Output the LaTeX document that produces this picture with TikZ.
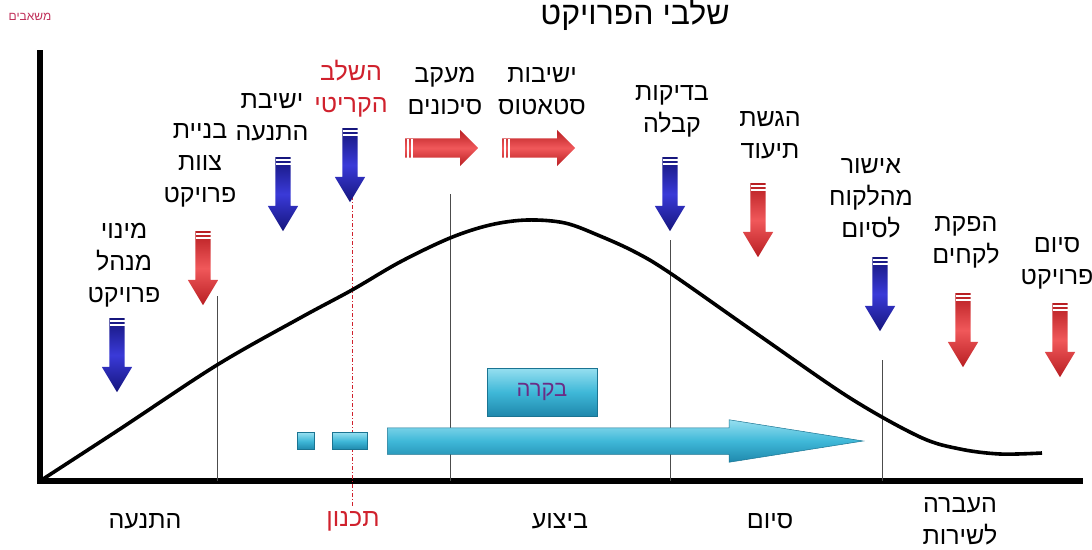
\documentclass[tikz,border=0pt]{standalone}
\usepackage{fontspec}
\setmainfont{Liberation Sans}
\newfontfamily\hebfont[Script=Hebrew]{Liberation Sans}
\TeXXeTstate=1
\usetikzlibrary{shapes.arrows, calc}

\definecolor{arrblue}{HTML}{15157C}
\definecolor{arrbluehi}{HTML}{3A3AD8}
\definecolor{arrred}{HTML}{B81E22}
\definecolor{arrredhi}{HTML}{F0585A}
\definecolor{critred}{HTML}{D0212D}
\definecolor{axislbl}{HTML}{C0305A}
\definecolor{aquahi}{HTML}{96DFF0}
\definecolor{aquamid}{HTML}{3FB8D8}
\definecolor{aquadk}{HTML}{1F88AC}
\definecolor{boxtext}{HTML}{6B2C86}

\newcommand{\heb}[1]{\beginR#1\endR}

\begin{document}
\begin{tikzpicture}[x=1pt, y=-1pt,
    lbl/.style={font=\hebfont\fontsize{25}{32}\selectfont, align=center},
    dn/.style={single arrow, rotate=-90, anchor=tail, minimum height=74,
               minimum width=30, single arrow head extend=7.5,
               single arrow tip angle=62, inner xsep=0pt, inner ysep=7.5pt},
    bluedn/.style={dn, top color=arrblue, bottom color=arrblue,
                   middle color=arrbluehi},
    reddn/.style={dn, top color=arrred, bottom color=arrred,
                  middle color=arrredhi},
    redrt/.style={single arrow, anchor=tail, minimum height=73, minimum width=36,
                  single arrow head extend=8.5, inner xsep=0pt, inner ysep=9.5pt,
                  top color=arrred, bottom color=arrred, middle color=arrredhi},
    aqua/.style={top color=aquahi, bottom color=aquadk, middle color=aquamid,
                 draw=aquadk!85!black, line width=0.5},
    drop/.style={gray!60!black, line width=0.9}
  ]
  \useasboundingbox (0,0) rectangle (1092,549);

  % title, cut at the top edge
  \node[font=\hebfont\fontsize{32}{36}\selectfont, anchor=base] (title)
    at (635,24) {\heb{שלבי הפרויקט}};
  \node[font=\hebfont\fontsize{12}{14}\selectfont, text=axislbl] (ylbl)
    at (30,17) {\heb{משאבים}};

  % axes
  \coordinate (o) at (40,481);
  \draw[line width=6] (40,50) -- (40,484);
  \draw[line width=6] (37,481) -- (1083,481);

  % drop lines
  \draw[drop] (217,296) -- (217,481);
  \draw[drop] (450,194) -- (450,481);
  \draw[drop] (670,240) -- (670,481);
  \draw[drop] (882,360) -- (882,481);
  \draw[critred, line width=0.8, dash pattern=on 4pt off 2pt on 1pt off 2pt]
    (352,196) -- (352,506);

  % resource curve
  \draw[line width=3.6, line join=round] plot[smooth, tension=0.55] coordinates {
    (o) (120,429) (217,365) (300,318) (352,290) (400,262) (450,238)
    (490,225) (527,220) (565,223) (600,236) (635,252) (670,273)
    (760,336) (850,398) (920,437) (960,449) (1000,454) (1042,453)};

  % milestones (tail = top of the arrow)
  \node[bluedn] (a1) at (117,318) {};
  \node[reddn]  (a2) at (203,231) {};
  \node[bluedn] (a3) at (283,157) {};
  \node[bluedn] (a4) at (350,128) {};
  \node[bluedn] (a7) at (670,157) {};
  \node[reddn]  (a8) at (758,183) {};
  \node[bluedn] (a9) at (880,257) {};
  \node[reddn]  (a10) at (963,293) {};
  \node[reddn]  (a11) at (1060,303) {};
  \node[redrt]  (h1) at (405,148) {};
  \node[redrt]  (h2) at (502,148) {};

  \foreach \n in {a1,a2,a3,a4,a7,a8,a9,a10,a11} {
    \draw[white, line width=1.4] ($(\n.tail)+(-7.5,3)$) -- ($(\n.tail)+(7.5,3)$);
    \draw[white, line width=1.4] ($(\n.tail)+(-7.5,7)$) -- ($(\n.tail)+(7.5,7)$);
  }
  \foreach \n in {h1,h2} {
    \draw[white, line width=1.4] ($(\n.tail)+(3,-9.5)$) -- ($(\n.tail)+(3,9.5)$);
    \draw[white, line width=1.4] ($(\n.tail)+(7,-9.5)$) -- ($(\n.tail)+(7,9.5)$);
  }

  % milestone labels
  \node[lbl] (l1) at (124,265) {\heb{מינוי}\\\heb{מנהל}\\\heb{פרויקט}};
  \node[lbl] (l2) at (200,165) {\heb{בניית}\\\heb{צוות}\\\heb{פרויקט}};
  \node[lbl] (l3) at (272,117) {\heb{ישיבת}\\\heb{התנעה}};
  \node[lbl, text=critred] (l4) at (351,89) {\heb{השלב}\\\heb{הקריטי}};
  \node[lbl] (l5) at (445,91) {\heb{מעקב}\\\heb{סיכונים}};
  \node[lbl] (l6) at (542,91) {\heb{ישיבות}\\\heb{סטאטוס}};
  \node[lbl] (l7) at (672,111) {\heb{בדיקות}\\\heb{קבלה}};
  \node[lbl] (l8) at (770,135) {\heb{הגשת}\\\heb{תיעוד}};
  \node[lbl] (l9) at (871,198) {\heb{אישור}\\\heb{מהלקוח}\\\heb{לסיום}};
  \node[lbl] (l10) at (966,242) {\heb{הפקת}\\\heb{לקחים}};
  \node[lbl] (l11) at (1057,263) {\heb{סיום}\\\heb{פרויקט}};

  % control
  \node[aqua, rectangle, minimum width=110, minimum height=48, text=boxtext,
        font=\hebfont\fontsize{22}{26}\selectfont] (ctl) at (542,392) {\heb{בקרה}};
  \node[aqua, rectangle, minimum width=17, minimum height=17] (sq1) at (306,441) {};
  \node[aqua, rectangle, minimum width=35, minimum height=17] (sq2) at (350,441) {};
  \node[aqua, single arrow, anchor=tail, minimum height=476, minimum width=42,
        inner xsep=0pt, inner ysep=13pt,
        single arrow head extend=8, single arrow tip angle=18] (flow) at (387,441) {};

  % phases
  \node[lbl] (p1) at (145,521) {\heb{התנעה}};
  \node[lbl, text=critred] (p2) at (353,521) {\heb{תכנון}};
  \node[lbl] (p3) at (560,521) {\heb{ביצוע}};
  \node[lbl] (p4) at (770,521) {\heb{סיום}};
  \node[lbl] (p5) at (960,521) {\heb{העברה}\\\heb{לשירות}};
\end{tikzpicture}
\end{document}
